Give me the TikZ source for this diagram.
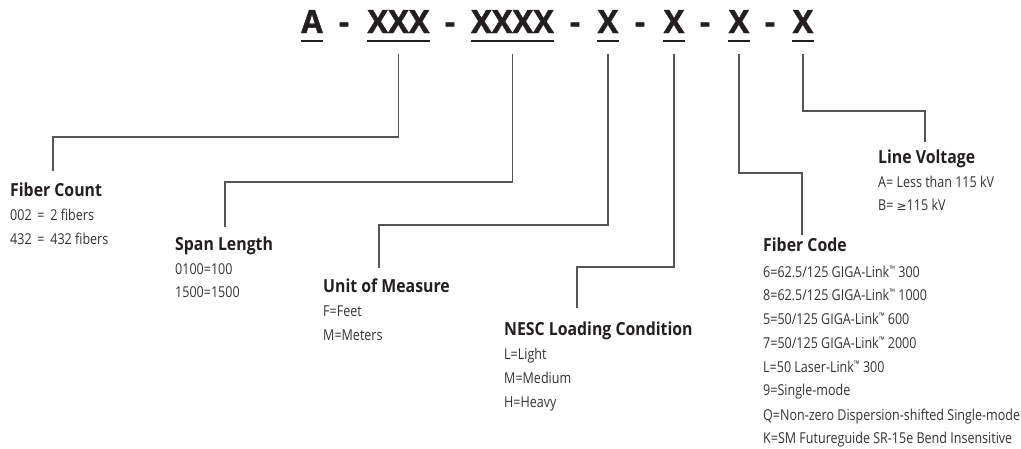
\documentclass[tikz,border=0pt]{standalone}
\usepackage{fontspec}
\setmainfont{Open Sans}
\newfontfamily\bodyfont[FakeStretch=0.835]{Open Sans}
\newfontfamily\headfont[FakeStretch=0.88]{Open Sans}
\newfontfamily\codefont[FakeStretch=0.97,FakeBold=1.2]{Open Sans}
\newfontfamily\symfont{DejaVu Sans}
\newcommand\tmark{\raisebox{4.5pt}{\fontsize{9}{9}\selectfont ™}}
\definecolor{ink}{HTML}{231F20}
\definecolor{txt}{HTML}{333333}
\definecolor{wire}{HTML}{555555}
\tikzset{
  code/.style={font=\codefont\bfseries\fontsize{32}{32}\selectfont, inner sep=0pt, anchor=base, text=ink},
  uline/.style={line width=2pt, ink},
  conn/.style={line width=1.3pt, wire},
  head/.style={font=\headfont\bfseries\fontsize{18}{18}\selectfont, inner sep=0pt, anchor=base west, text=ink},
  item/.style={font=\bodyfont\fontsize{15}{15}\selectfont, inner sep=0pt, anchor=base west, text=txt},
}
\begin{document}
\begin{tikzpicture}[x=1pt,y=-1pt]
\useasboundingbox (0,0) rectangle (1021,448);

% part number code
\node[code] (pA)  at (312,33)   {A};
\node[code] (d1)  at (344,33)   {-};
\node[code] (pB)  at (398.5,33) {XXX};
\node[code] (d2)  at (450,33)   {-};
\node[code] (pC)  at (512.5,33) {XXXX};
\node[code] (d3)  at (575,33)   {-};
\node[code] (pD)  at (608,33)   {X};
\node[code] (d4)  at (640,33)   {-};
\node[code] (pE)  at (674,33)   {X};
\node[code] (d5)  at (705,33)   {-};
\node[code] (pF)  at (739,33)   {X};
\node[code] (d6)  at (770,33)   {-};
\node[code] (pG)  at (803,33)   {X};

\foreach \p in {pA,pB,pC,pD,pE,pF,pG}
  \draw[uline] ([yshift=-8pt]\p.base west) -- ([yshift=-8pt]\p.base east);

% field descriptions
\node[head] (fc)  at (10,196) {Fiber Count};
\node[item] (fc1) at (10,220) {002\hspace{2.5pt} = \hspace{2.5pt}2 fibers};
\node[item] (fc2) at (10,244) {432\hspace{2.5pt} = \hspace{2.5pt}432 fibers};

\node[head] (sl)  at (175,250) {Span Length};
\node[item] (sl1) at (175,274) {0100=100};
\node[item] (sl2) at (175,297) {1500=1500};

\node[head] (um)  at (323,292) {Unit of Measure};
\node[item] (um1) at (323,316) {F=Feet};
\node[item] (um2) at (323,340) {M=Meters};

\node[head] (nl)  at (504,335) {NESC Loading Condition};
\node[item] (nl1) at (504,359) {L=Light};
\node[item] (nl2) at (504,383) {M=Medium};
\node[item] (nl3) at (504,407) {H=Heavy};

\node[head] (fo)  at (763,251) {Fiber Code};
\node[item] (fo1) at (763,277) {6=62.5/125 GIGA-Link\tmark{} 300};
\node[item] (fo2) at (763,300) {8=62.5/125 GIGA-Link\tmark{} 1000};
\node[item] (fo3) at (763,324) {5=50/125 GIGA-Link\tmark{} 600};
\node[item] (fo4) at (763,348) {7=50/125 GIGA-Link\tmark{} 2000};
\node[item] (fo5) at (763,372) {L=50 Laser-Link\tmark{} 300};
\node[item] (fo6) at (763,395) {9=Single-mode};
\node[item] (fo7) at (763,420) {Q=Non-zero Dispersion-shifted Single-mode};
\node[item] (fo8) at (763,443) {K=SM Futureguide SR-15e Bend Insensitive};

\node[head] (lv)  at (878,163) {Line Voltage};
\node[item] (lv1) at (878,187) {A= Less than 115 kV};
\node[item] (lv2) at (878,210) {B= {\symfont\fontsize{12}{12}\selectfont ≥}115 kV};

% leader ends above each description
\coordinate (fcEnd) at (53,171);
\coordinate (slEnd) at (225,227);
\coordinate (umEnd) at (379,268);
\coordinate (nlEnd) at (577,308);
\coordinate (foEnd) at (802,235);
\coordinate (lvEnd) at (925,142);

% leaders
\draw[conn] ([yshift=-21pt]pB.base) -- ++(0,83)  -| (fcEnd);
\draw[conn] ([yshift=-21pt]pC.base) -- ++(0,128) -| (slEnd);
\draw[conn] ([yshift=-21pt]pD.base) -- ++(0,171) -| (umEnd);
\draw[conn] ([yshift=-21pt]pE.base) -- ++(0,213) -| (nlEnd);
\draw[conn] ([yshift=-21pt]pF.base) -- ++(0,119) -| (foEnd);
\draw[conn] ([yshift=-21pt]pG.base) -- ++(0,57)  -| (lvEnd);
\end{tikzpicture}
\end{document}
